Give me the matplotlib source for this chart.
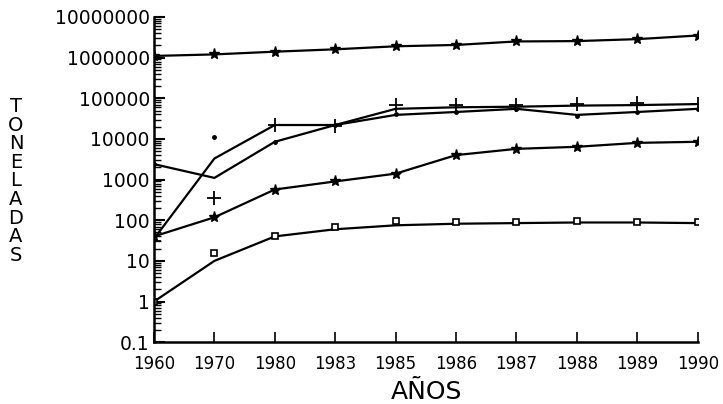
import matplotlib
matplotlib.use("Agg")
import matplotlib.pyplot as plt
from matplotlib.ticker import LogLocator, NullFormatter, FixedLocator
import numpy as np

# Años (eje categórico, espaciado uniforme)
years = ["1960", "1970", "1980", "1983", "1985", "1986", "1987", "1988", "1989", "1990"]

# Serie superior (estrellas)
top_star = [1.1e6, 1.2e6, 1.4e6, 1.6e6, 1.9e6, 2.05e6, 2.5e6, 2.55e6, 2.85e6, 3.5e6]

# Serie con cruces: curva ajustada y puntos medidos
plus_curve = [35, 3300, 22000, 22000, 55000, 60000, 62000, 66000, 68000, 72000]
plus_pts = [30, 350, 22000, 21000, 68000, 70000, 70000, 72000, 78000, 72000]

# Serie con puntos: curva ajustada y puntos medidos
dot_curve = [2400, 1100, 8500, 22000, 39000, 46000, 55000, 39000, 46000, 55000]
dot_pts = [2400, 11000, 8500, 22000, 40000, 46000, 55000, 37000, 46000, 55000]

# Serie intermedia (estrellas)
mid_star = [40, 118, 570, 900, 1400, 4000, 5700, 6400, 8000, 8500]

# Serie inferior (cuadros): curva y puntos
sq_curve = [1, 10, 40, 60, 75, 82, 85, 88, 88, 85]
sq_pts = [1, 16, 40, 67, 95, 90, 92, 97, 92, 90]

y_ticks = [0.1, 1, 10, 100, 1000, 10000, 100000, 1000000, 10000000]
y_labels = ["0.1", "1", "10", "100", "1000", "10000", "100000", "1000000", "10000000"]

fig = plt.figure(figsize=(7.23, 4.04), dpi=100)
ax = fig.add_axes([0.213, 0.153, 0.752, 0.805])
x = np.arange(len(years))

lw = 1.6
ax.plot(x, top_star, color="black", lw=lw, marker="*", ms=8)
ax.plot(x, plus_curve, color="black", lw=lw)
ax.plot(x, plus_pts, ls="none", color="black", marker="+", ms=10, mew=1.3)
ax.plot(x, dot_curve, color="black", lw=lw)
ax.plot(x, dot_pts, ls="none", color="black", marker=".", ms=5)
ax.plot(x, mid_star, color="black", lw=lw, marker="*", ms=8)
ax.plot(x, sq_curve, color="black", lw=lw)
ax.plot(x, sq_pts, ls="none", color="black", marker="s", ms=5, mfc="white", mew=1.2)

ax.set_yscale("log")
ax.set_ylim(0.1, 1e7)
ax.set_xlim(0, len(years) - 1)

ax.yaxis.set_major_locator(FixedLocator(y_ticks))
ax.set_yticklabels(y_labels, fontsize=13.5)
ax.yaxis.set_minor_locator(LogLocator(base=10, subs=np.arange(2, 10), numticks=20))
ax.yaxis.set_minor_formatter(NullFormatter())

ax.set_xticks(x)
ax.set_xticklabels(years, fontsize=12)

ax.tick_params(axis="y", which="major", direction="in", length=8, width=1.5, pad=3)
ax.tick_params(axis="y", which="minor", direction="in", length=5, width=1.0)
ax.tick_params(axis="x", which="major", direction="in", length=7, width=1.2, pad=9)

for s in ["top", "right"]:
    ax.spines[s].set_visible(False)
ax.spines["left"].set_linewidth(1.8)
ax.spines["bottom"].set_linewidth(1.8)

fig.text(0.59, 0.03, "AÑOS", fontsize=18, ha="center", va="center")
fig.text(0.022, 0.552, "\n".join("TONELADAS"), fontsize=14, ha="center",
         va="center", linespacing=0.97)

fig.savefig("out.png", dpi=100)
